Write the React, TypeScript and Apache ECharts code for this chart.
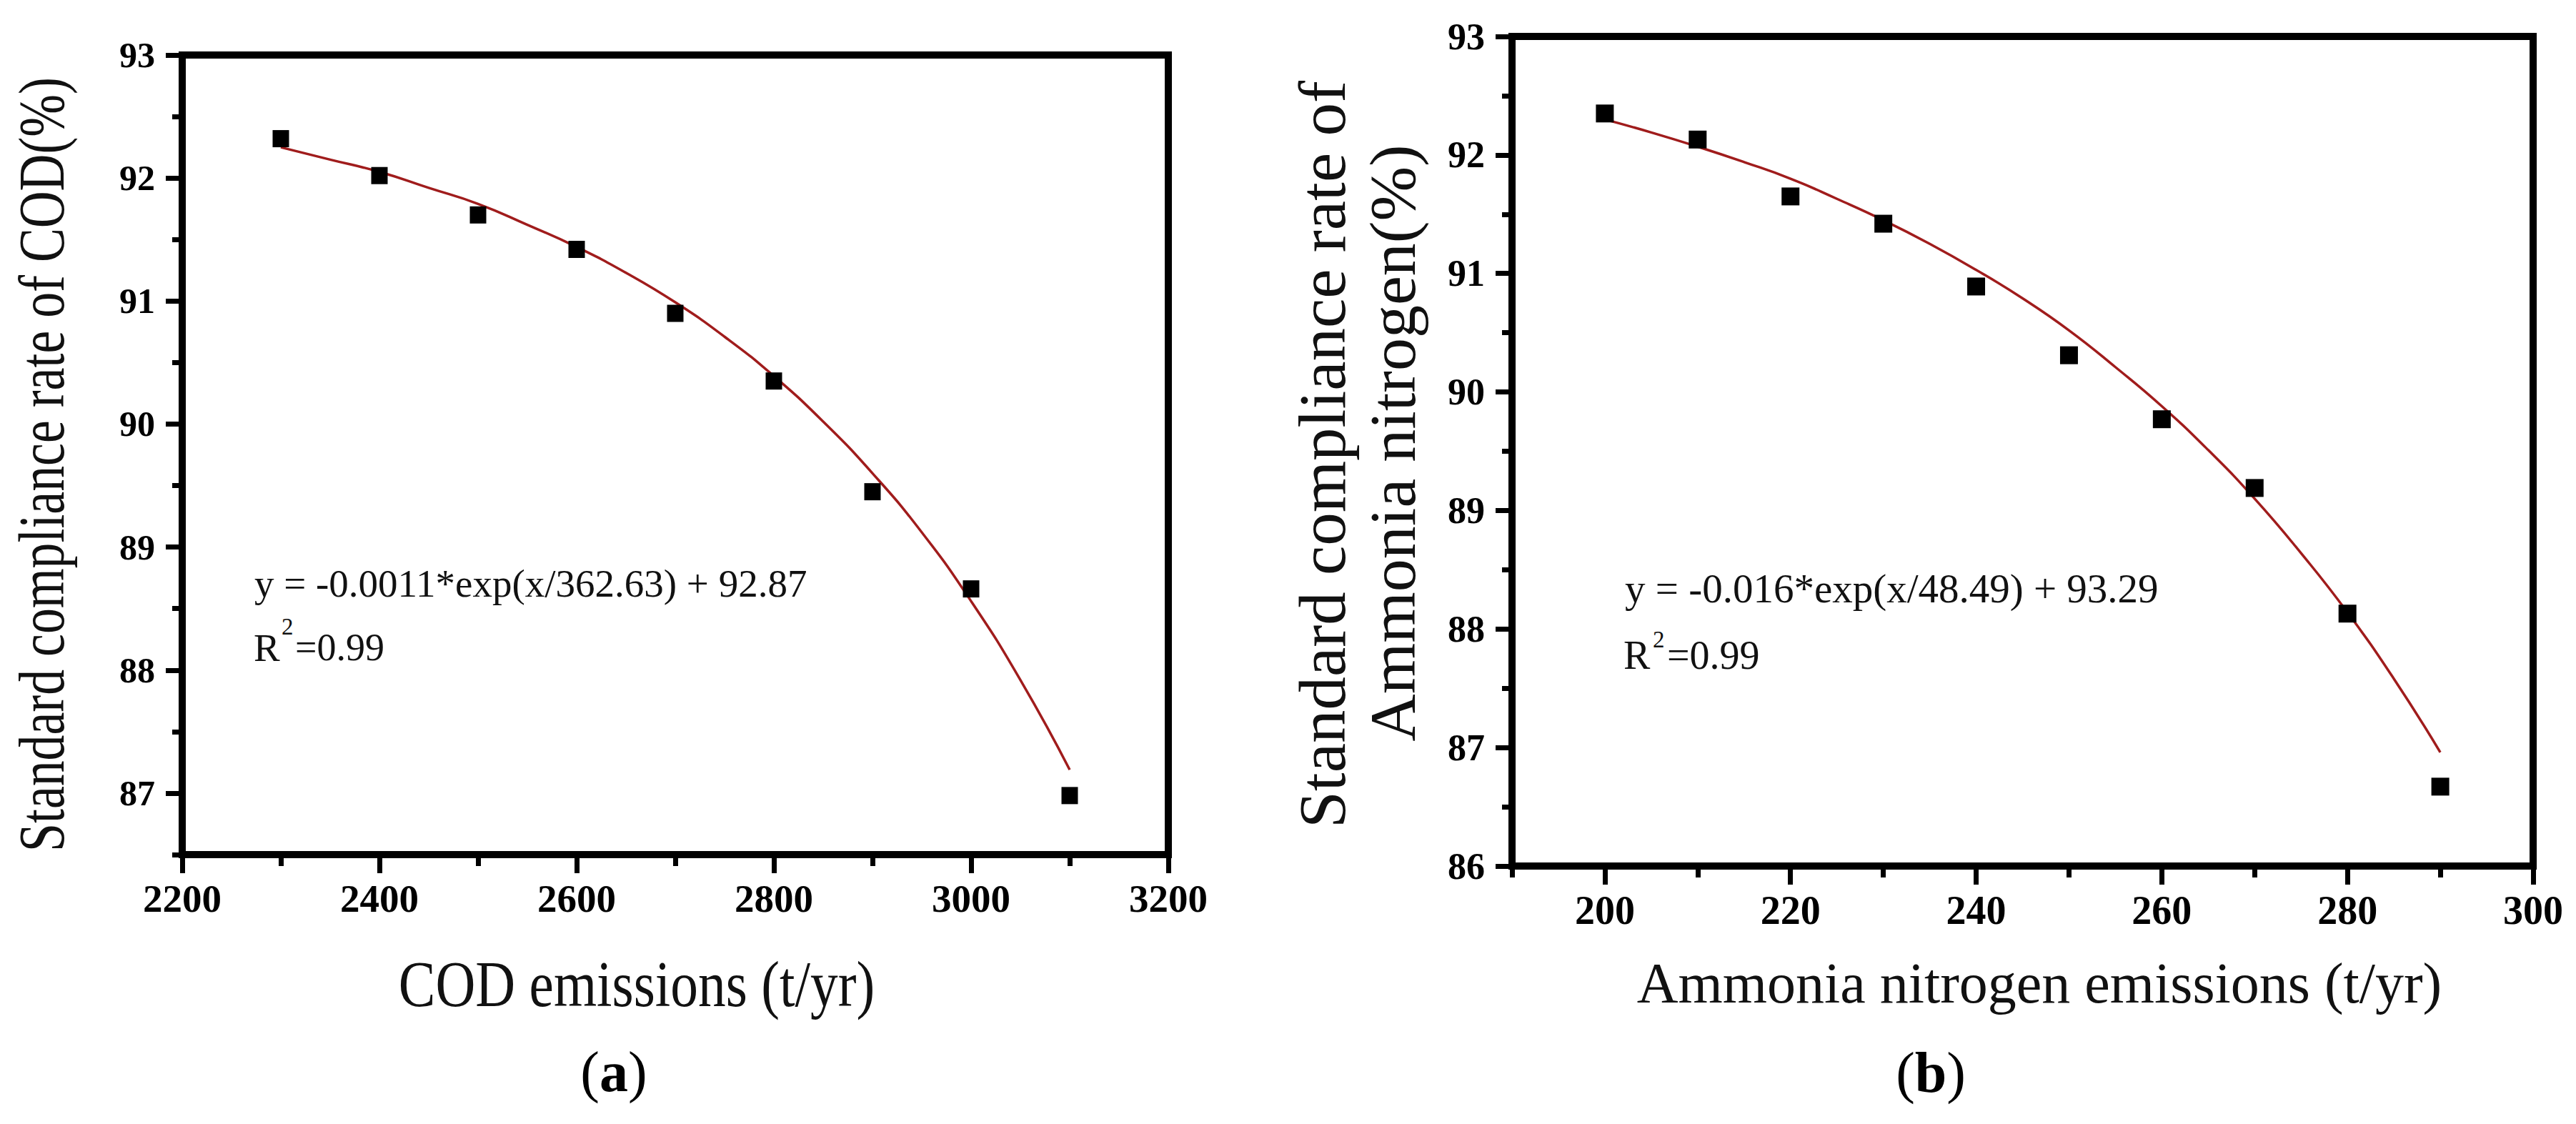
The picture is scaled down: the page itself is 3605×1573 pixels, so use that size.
import React, { useEffect, useRef } from "react";
import * as echarts from "echarts";

// ---- Data ----
const codEmissions = [2300, 2400, 2500, 2600, 2700, 2800, 2900, 3000, 3100];
const codRate = [92.32, 92.02, 91.7, 91.42, 90.9, 90.35, 89.45, 88.66, 86.98];
const codFitX = [2300, 2350, 2400, 2450, 2500, 2550, 2600, 2650, 2700, 2750, 2800, 2850, 2900, 2950, 3000, 3050, 3100];
const codFitY = [92.25, 92.15, 92.05, 91.92, 91.79, 91.62, 91.44, 91.23, 90.99, 90.71, 90.39, 90.02, 89.6, 89.12, 88.56, 87.92, 87.19];

const nhEmissions = [200, 210, 220, 230, 240, 250, 260, 270, 280, 290];
const nhRate = [92.35, 92.13, 91.65, 91.42, 90.89, 90.31, 89.77, 89.19, 88.13, 86.67];
const nhFitX = [200, 205, 210, 215, 220, 225, 230, 235, 240, 245, 250, 255, 260, 265, 270, 275, 280, 285, 290];
const nhFitY = [92.3, 92.19, 92.07, 91.94, 91.8, 91.63, 91.45, 91.25, 91.03, 90.79, 90.52, 90.21, 89.88, 89.51, 89.1, 88.64, 88.14, 87.58, 86.96];

const codXMajor = [2200, 2400, 2600, 2800, 3000, 3200];
const codXMinor = [2300, 2500, 2700, 2900, 3100];
const codYMajor = [87, 88, 89, 90, 91, 92, 93];
const codYMinor = [86.5, 87.5, 88.5, 89.5, 90.5, 91.5, 92.5];
const nhXMajor = [200, 220, 240, 260, 280, 300];
const nhXMinor = [190, 210, 230, 250, 270, 290];
const nhYMajor = [86, 87, 88, 89, 90, 91, 92, 93];
const nhYMinor = [86.5, 87.5, 88.5, 89.5, 90.5, 91.5, 92.5];

const SERIF = "'Liberation Serif', 'Times New Roman', serif";
const FIT_COLOR = "#a01c1c";

export default function App() {
  const ref = useRef<HTMLDivElement>(null);

  useEffect(() => {
    if (!ref.current) return;
    const chart = echarts.init(ref.current, null, { renderer: "svg" });

    const lineStyle = { color: "#000", width: 10 };
    const tickStyle = { color: "#000", width: 7 };
    const plain = (v: number) => String(v);
    const tickLabel = (size: number, margin: number, values: number[]) => ({
      show: true,
      color: "#000",
      fontFamily: SERIF,
      fontWeight: "bold",
      fontSize: size,
      margin,
      customValues: values,
      formatter: plain,
    });

    // one axis carries line + major ticks + labels, a twin carries the minor ticks
    const majorAxis = (grid: number, min: number, max: number, ticks: number[], label: any, len: number, pos: string) => ({
      type: "value", gridIndex: grid, min, max, position: pos,
      axisLine: { show: true, onZero: false, lineStyle },
      axisTick: { show: true, inside: false, length: len, customValues: ticks, lineStyle: tickStyle },
      axisLabel: label,
      splitLine: { show: false },
    });
    const minorAxis = (grid: number, min: number, max: number, ticks: number[], len: number, pos: string) => ({
      type: "value", gridIndex: grid, min, max, position: pos,
      axisLine: { show: false, onZero: false },
      axisTick: { show: true, inside: false, length: len, customValues: ticks, lineStyle: tickStyle },
      axisLabel: { show: false },
      splitLine: { show: false },
    });

    const option: any = {
      animation: false,
      backgroundColor: "#fff",
      grid: [
        { left: 255, top: 77, width: 1380, height: 1119, show: true, borderColor: "#000", borderWidth: 10, backgroundColor: "transparent", containLabel: false, outerBoundsMode: "none" },
        { left: 2116, top: 51, width: 1429, height: 1161, show: true, borderColor: "#000", borderWidth: 10, backgroundColor: "transparent", containLabel: false, outerBoundsMode: "none" },
      ],
      xAxis: [
        majorAxis(0, 2200, 3200, codXMajor, tickLabel(55, 34, codXMajor), 26, "bottom"),
        minorAxis(0, 2200, 3200, codXMinor, 16, "bottom"),
        majorAxis(1, 190, 300, nhXMajor, tickLabel(56, 34, nhXMajor), 26, "bottom"),
        minorAxis(1, 190, 300, nhXMinor, 16, "bottom"),
      ],
      yAxis: [
        majorAxis(0, 86.5, 93, codYMajor, tickLabel(50, 38, codYMajor), 23, "left"),
        minorAxis(0, 86.5, 93, codYMinor, 14, "left"),
        majorAxis(1, 86, 93, nhYMajor, tickLabel(52, 38, nhYMajor), 23, "left"),
        minorAxis(1, 86, 93, nhYMinor, 14, "left"),
      ],
      series: [
        {
          type: "line", xAxisIndex: 0, yAxisIndex: 0, smooth: true, showSymbol: false, symbol: "none",
          data: codFitX.map((x, i) => [x, codFitY[i]]),
          lineStyle: { color: FIT_COLOR, width: 3.5 }, z: 2,
        },
        {
          type: "scatter", xAxisIndex: 0, yAxisIndex: 0, symbol: "rect", symbolSize: [23, 24],
          data: codEmissions.map((x, i) => [x, codRate[i]]),
          itemStyle: { color: "#000", opacity: 1 }, z: 3,
        },
        {
          type: "line", xAxisIndex: 2, yAxisIndex: 2, smooth: true, showSymbol: false, symbol: "none",
          data: nhFitX.map((x, i) => [x, nhFitY[i]]),
          lineStyle: { color: FIT_COLOR, width: 3.5 }, z: 2,
        },
        {
          type: "scatter", xAxisIndex: 2, yAxisIndex: 2, symbol: "rect", symbolSize: [25, 25],
          data: nhEmissions.map((x, i) => [x, nhRate[i]]),
          itemStyle: { color: "#000", opacity: 1 }, z: 3,
        },
      ],
      graphic: [
        // Left y-axis title
        {
          type: "text", x: 58, y: 650, rotation: Math.PI / 2, scaleX: 0.78, scaleY: 1,
          style: { text: "Standard compliance rate of COD(%)", font: `92px ${SERIF}`, fill: "#111", align: "center", verticalAlign: "middle" },
        },
        // Left x-axis title
        {
          type: "text", x: 891, y: 1377, scaleX: 0.86, scaleY: 1,
          style: { text: "COD emissions (t/yr)", font: `90px ${SERIF}`, fill: "#111", align: "center", verticalAlign: "middle" },
        },
        // (a)
        {
          type: "text", x: 859, y: 1500,
          style: {
            text: "({b|a})", font: `80px ${SERIF}`, fill: "#000", align: "center", verticalAlign: "middle",
            rich: { b: { fontFamily: SERIF, fontSize: 80, fontWeight: "bold", fill: "#000" } },
          },
        },
        // Left equation
        {
          type: "text", x: 356, y: 816,
          style: { text: "y = -0.0011*exp(x/362.63) + 92.87", font: `55px ${SERIF}`, fill: "#111", align: "left", verticalAlign: "middle" },
        },
        { type: "text", x: 355, y: 906, style: { text: "R", font: `55px ${SERIF}`, fill: "#111", align: "left", verticalAlign: "middle" } },
        { type: "text", x: 394, y: 877, style: { text: "2", font: `33px ${SERIF}`, fill: "#111", align: "left", verticalAlign: "middle" } },
        { type: "text", x: 413, y: 906, style: { text: "=0.99", font: `54px ${SERIF}`, fill: "#111", align: "left", verticalAlign: "middle" } },

        // Right y-axis title (two lines)
        {
          type: "text", x: 1850, y: 636, rotation: Math.PI / 2,
          style: { text: "Standard compliance rate of", font: `93px ${SERIF}`, fill: "#111", align: "center", verticalAlign: "middle" },
        },
        {
          type: "text", x: 1949, y: 620, rotation: Math.PI / 2,
          style: { text: "Ammonia nitrogen(%)", font: `92px ${SERIF}`, fill: "#111", align: "center", verticalAlign: "middle" },
        },
        // Right x-axis title
        {
          type: "text", x: 2854, y: 1376,
          style: { text: "Ammonia nitrogen emissions (t/yr)", font: `80px ${SERIF}`, fill: "#111", align: "center", verticalAlign: "middle" },
        },
        // (b)
        {
          type: "text", x: 2702, y: 1501,
          style: {
            text: "({b|b})", font: `80px ${SERIF}`, fill: "#000", align: "center", verticalAlign: "middle",
            rich: { b: { fontFamily: SERIF, fontSize: 80, fontWeight: "bold", fill: "#000" } },
          },
        },
        // Right equation
        {
          type: "text", x: 2274, y: 823,
          style: { text: "y = -0.016*exp(x/48.49) + 93.29", font: `57px ${SERIF}`, fill: "#111", align: "left", verticalAlign: "middle" },
        },
        { type: "text", x: 2272, y: 917, style: { text: "R", font: `56px ${SERIF}`, fill: "#111", align: "left", verticalAlign: "middle" } },
        { type: "text", x: 2313, y: 895, style: { text: "2", font: `33px ${SERIF}`, fill: "#111", align: "left", verticalAlign: "middle" } },
        { type: "text", x: 2333, y: 917, style: { text: "=0.99", font: `56px ${SERIF}`, fill: "#111", align: "left", verticalAlign: "middle" } },
      ],
    };

    chart.setOption(option);
    return () => chart.dispose();
  }, []);

  return (
    <div
      ref={ref}
      style={{ position: "fixed", left: 0, top: 0, width: 3605, height: 1573, background: "#fff" }}
    />
  );
}
